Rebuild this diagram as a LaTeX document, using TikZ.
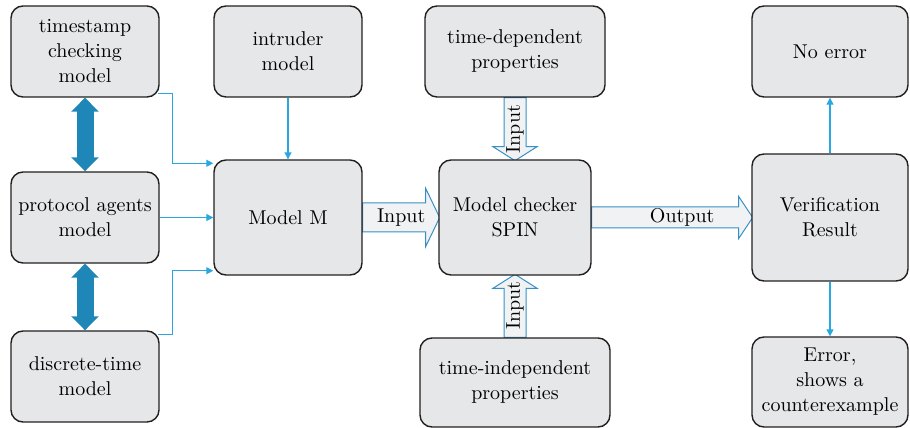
\documentclass[tikz,border=0pt]{standalone}
\usetikzlibrary{calc,arrows.meta,backgrounds}
\definecolor{BoxGray}{HTML}{E6E7E8}
\definecolor{Ink}{HTML}{231F20}
\definecolor{LinkBlue}{HTML}{29A8E0}
\definecolor{DeepBlue}{HTML}{1F87B7}
\definecolor{PaleFill}{HTML}{F1F2F4}
\definecolor{EdgeBlue}{HTML}{3690C6}

\tikzset{
    block/.style={draw=Ink, line width=0.7pt, fill=BoxGray, rounded corners=6pt,
        align=center, inner sep=0pt, font=\fontsize{10}{12.5}\selectfont},
    link/.style={LinkBlue, line width=0.6pt, -{Triangle[length=3.5pt, width=3.5pt]}},
    bothway/.style={DeepBlue, line width=8.5pt,
        {Triangle[length=7pt, width=13.5pt]}-{Triangle[length=7pt, width=13.5pt]}},
}

% hollow block arrow: [shaft][head]{start}{angle}{length}[label options]{label}
\NewDocumentCommand{\FatArrow}{O{11} O{22} m m m O{} m}{
    \begin{scope}[on background layer, shift={#3}, rotate=#4]
    \draw[EdgeBlue, line width=0.5pt, fill=PaleFill]
        (0,-#1) -- (#5-14,-#1) -- (#5-14,-#2) -- (#5,0)
        -- (#5-14,#2) -- (#5-14,#1) -- (0,#1) -- cycle;
    \end{scope}
    \begin{scope}[shift={#3}, rotate=#4]
    \node[font=\fontsize{10}{12.5}\selectfont, inner sep=0pt, #6] at (#5/2,0) {#7};
    \end{scope}
}

\begin{document}
\begin{tikzpicture}[x=0.5pt, y=0.5pt]
\useasboundingbox (0,0) rectangle (910,428);

% models
\node[block, minimum width=74pt, minimum height=45.5pt] (stamp) at (85,376.5) {timestamp\\checking\\model};
\node[block, minimum width=74pt, minimum height=45.5pt] (agents) at (85,210.5) {protocol agents\\model};
\node[block, minimum width=74pt, minimum height=45.5pt] (disc) at (85,51.5) {discrete-time\\model};
\node[block, minimum width=74pt, minimum height=45.5pt] (intr) at (288,376.5) {intruder\\model};
\node[block, minimum width=74pt, minimum height=57.5pt] (mM) at (288,210.5) {Model M};

% checker and properties
\node[block, minimum width=90pt, minimum height=45.5pt] (tdep) at (515,376.5) {time-dependent\\properties};
\node[block, minimum width=76pt, minimum height=57.5pt] (chk) at (515,210.5) {Model checker\\SPIN};
\node[block, minimum width=95pt, minimum height=44.5pt] (tind) at (515,45.5) {time-independent\\properties};

% results
\node[block, minimum width=78pt, minimum height=45.5pt] (noerr) at (830,376.5) {No error};
\node[block, minimum width=78pt, minimum height=63.5pt] (verif) at (830,210.5) {Verification\\Result};
\node[block, minimum width=78pt, minimum height=45pt] (err) at (830,46) {Error,\\shows a\\counterexample};

\draw[bothway] (stamp.south) -- (agents.north);
\draw[bothway] (agents.south) -- (disc.north);

\draw[link] ($(stamp.south east)+(-2,4)$) -- ++(15,0) |- ($(mM.north west)+(0,-4)$);
\draw[link] (agents.east) -- (mM.west);
\draw[link] ($(disc.north east)+(-2,-4)$) -- ++(15,0) |- ($(mM.south west)+(0,5)$);
\draw[link] (intr.south) -- (mM.north);
\draw[link] (verif.north) -- (noerr.south);
\draw[link] (verif.south) -- (err.north);

\FatArrow[14.5][29]{(mM.east)}{0}{77}{Input}
\FatArrow[10.5][21]{(chk.east)}{0}{161}[xshift=5pt]{Output}
\FatArrow{(tdep.south)}{-90}{63}[rotate=90]{Input}
\FatArrow{(tind.north)}{90}{63}[rotate=90]{Input}
\end{tikzpicture}
\end{document}
